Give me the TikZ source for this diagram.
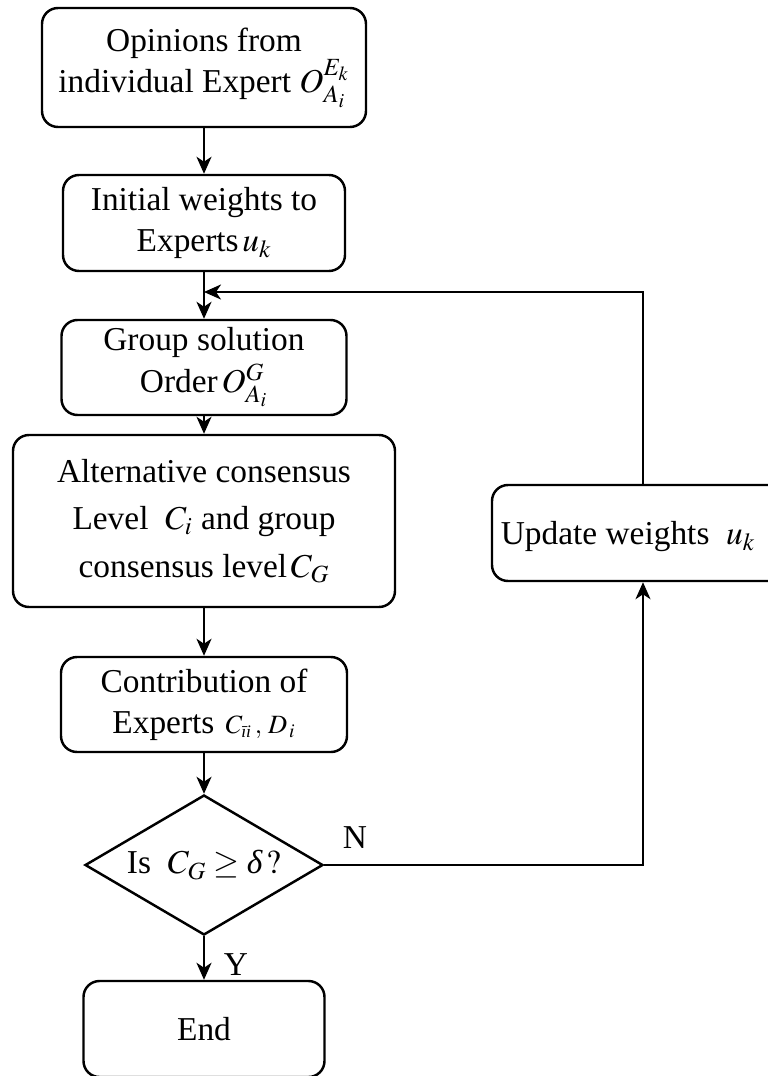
\documentclass[tikz,border=0pt]{standalone}
\usepackage{mathptmx}
\usepackage[no-math]{fontspec}
\setmainfont{Liberation Serif}
\usetikzlibrary{arrows.meta,shapes.geometric}

\tikzset{
  x=0.02cm, y=-0.02cm,
  every node/.style={font=\fontsize{19}{23.5}\selectfont},
  flowbox/.style={draw, line width=1.4pt, rounded corners=0.32cm,
    align=center, inner sep=0pt},
  decision/.style={draw, line width=1.4pt, diamond, aspect=1.7,
    inner sep=0pt, minimum width=238*0.02cm, minimum height=140*0.02cm},
  arr/.style={line width=1.4pt,
    -{Stealth[length=0.34cm, width=0.3cm, inset=0.1cm]}},
  plain/.style={line width=1.4pt},
  tag/.style={inner sep=0pt}
}

\begin{document}
\begin{tikzpicture}
\useasboundingbox (0,0) rectangle (768,1076);

% main column
\node[flowbox, minimum width=324*0.02cm, minimum height=119*0.02cm] (b1) at (204,67.5)
  {Opinions from\\individual Expert $O_{A_i}^{E_k}$};
\node[flowbox, minimum width=282*0.02cm, minimum height=96*0.02cm] (b2) at (204,223)
  {Initial weights to\\Experts$\,u_k$};
\node[flowbox, minimum width=285*0.02cm, minimum height=95*0.02cm] (b3) at (204,367.5)
  {Group solution\\Order$\,O_{A_i}^{G}$};
\node[flowbox, minimum width=382*0.02cm, minimum height=172*0.02cm] (b4) at (204,521)
  {Alternative consensus\\[6*0.02cm]Level\ \ $C_i$ and group\\[6*0.02cm]consensus level$\,C_G$};
\node[flowbox, minimum width=286*0.02cm, minimum height=95*0.02cm] (b5) at (204,704.5)
  {Contribution of\\Experts\ {\fontsize{15}{18}\selectfont$\,C_{\mbox{\fontsize{10}{12}\selectfont\itshape īi}}\,,\,D_{\,i}$}};
\node[decision] (dia) at (204,865) {Is\ \ $C_G \geq \mbox{\itshape δ}\,?$};
\node[flowbox, minimum width=241*0.02cm, minimum height=96*0.02cm] (end) at (204,1029)
  {End};

% feedback branch
\node[flowbox, minimum width=302*0.02cm, minimum height=96*0.02cm] (upd) at (643,533) {};
\node[tag] (updtext) at (628,537) {Update weights\ \ $u_k$};
\coordinate (fb) at (204,292);

% connectors
\draw[arr] (b1.south) -- (b2.north);
\draw[plain] (b2.south) -- (fb);
\draw[arr] (fb) -- (b3.north);
\draw[arr] (b3.south) -- (b4.north);
\draw[arr] (b4.south) -- (b5.north);
\draw[arr] (b5.south) -- (dia.north);
\draw[arr] (dia.south) -- (end.north);
\draw[arr] (dia.east) -| (upd.south);
\draw[arr] (upd.north) |- (fb);

% branch labels
\node[tag] (nlab) at (355,838) {N};
\node[tag] (ylab) at (236,965) {Y};
\end{tikzpicture}
\end{document}
